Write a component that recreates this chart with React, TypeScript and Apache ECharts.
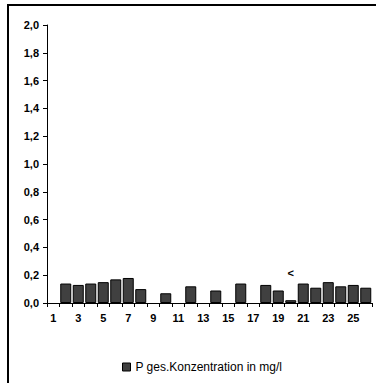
import React, { useEffect, useRef } from "react";
import * as echarts from "echarts";

const categories = Array.from({ length: 26 }, (_, i) => String(i + 1));
const pValues: (number | null)[] = [
  null, 0.14, 0.13, 0.14, 0.15, 0.17, 0.18, 0.10, null, 0.07,
  null, 0.12, null, 0.09, null, 0.14, null, 0.13, 0.09, 0.02,
  0.14, 0.11, 0.15, 0.12, 0.13, 0.11,
];
const annotations: Record<number, string> = { 19: "<" };
const yTicks = { min: 0, max: 2, interval: 0.2 };
const seriesName = "P ges.Konzentration in mg/l";

export default function App() {
  const ref = useRef<HTMLDivElement>(null);
  useEffect(() => {
    if (!ref.current) return;
    const chart = echarts.init(ref.current, null, { renderer: "svg" });
    const font = "Arial, 'Liberation Sans', sans-serif";
    chart.setOption({
      animation: false,
      backgroundColor: "#fff",
      textStyle: { fontFamily: font },
      grid: { left: 47, right: 4, top: 25, bottom: 80 },
      legend: {
        left: 117,
        top: 356,
        itemWidth: 8,
        itemHeight: 8,
        icon: "rect",
        itemGap: 4,
        textStyle: { fontSize: 12, color: "#000", fontFamily: font },
        data: [{ name: seriesName, itemStyle: { color: "#404040", borderColor: "#000", borderWidth: 1 } }],
      },
      xAxis: {
        type: "category",
        data: categories,
        boundaryGap: true,
        axisLine: { lineStyle: { color: "#000", width: 1 } },
        axisTick: { show: true, alignWithLabel: false, interval: 0, length: 4, lineStyle: { color: "#000" } },
        axisLabel: { interval: 1, color: "#000", fontWeight: "bold", fontSize: 11, margin: 9, fontFamily: font },
        splitLine: { show: false },
      },
      yAxis: {
        type: "value",
        min: yTicks.min,
        max: yTicks.max,
        interval: yTicks.interval,
        axisLine: { show: true, lineStyle: { color: "#000", width: 1 } },
        axisTick: { show: true, length: 4, lineStyle: { color: "#000" } },
        axisLabel: {
          color: "#000",
          fontWeight: "bold",
          fontSize: 11,
          margin: 8,
          fontFamily: font,
          formatter: (v: number) => v.toFixed(1).replace(".", ","),
        },
        splitLine: { show: false },
      },
      series: [
        {
          name: seriesName,
          type: "bar",
          barCategoryGap: "12%",
          data: pValues.map((v, i) =>
            annotations[i]
              ? {
                  value: v,
                  label: {
                    show: true,
                    position: "top",
                    distance: 22,
                    formatter: annotations[i],
                    color: "#000",
                    fontWeight: "bold",
                    fontSize: 11,
                    fontFamily: font,
                  },
                }
              : v
          ),
          itemStyle: { color: "#404040", borderColor: "#000", borderWidth: 1 },
        },
      ],
      graphic: [
        {
          type: "line",
          shape: { x1: 7, y1: 5, x2: 376, y2: 5 },
          style: { stroke: "#000", lineWidth: 2 },
          silent: true,
        },
        {
          type: "line",
          shape: { x1: 8, y1: 4, x2: 8, y2: 383 },
          style: { stroke: "#000", lineWidth: 2 },
          silent: true,
        },
      ],
    });
    return () => chart.dispose();
  }, []);
  return (
    <div
      ref={ref}
      style={{ position: "fixed", left: 0, top: 0, width: 376, height: 383 }}
    />
  );
}
